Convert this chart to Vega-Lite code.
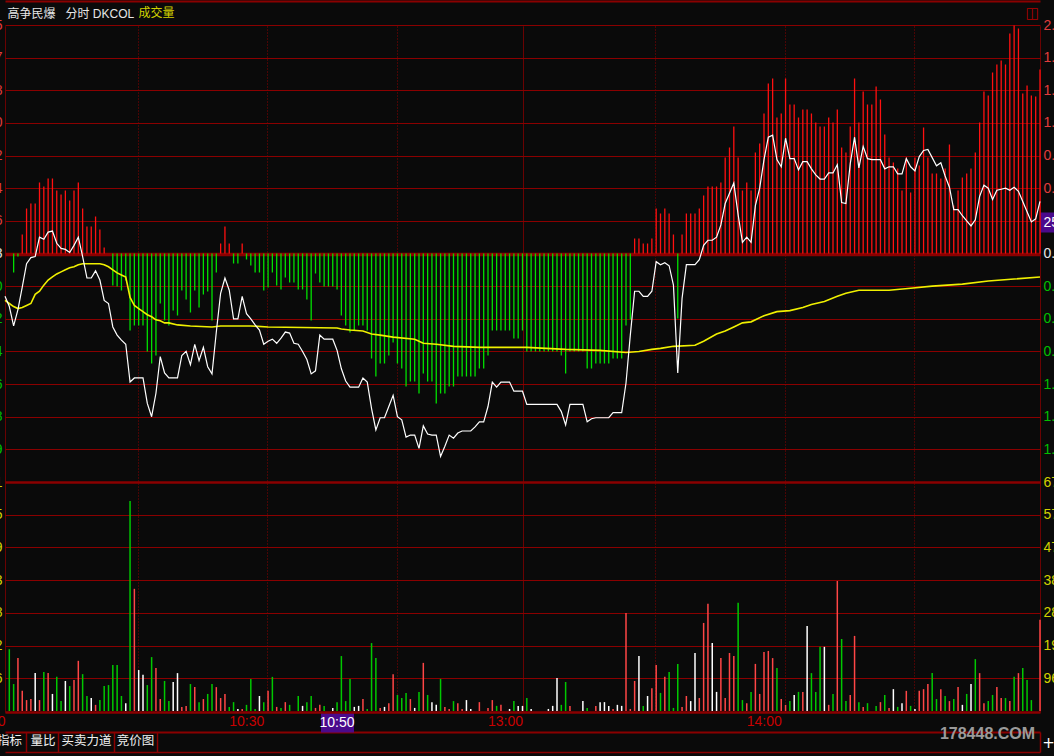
{
"$schema": "https://vega.github.io/schema/vega-lite/v6.json",
"width": 1035,
"height": 687,
"autosize": {"type": "none"},
"padding": {"left": 5, "top": 25, "right": 14, "bottom": 44},
"background": "#0a0a0a",
"config": {
  "view": {"stroke": null},
  "axis": {"labelFont": "Liberation Sans Narrow, Liberation Sans", "labelFontSize": 14, "titleFont": "Liberation Sans, Noto Sans CJK SC", "labelFlush": false, "labelOverlap": false, "ticks": false, "domain": false, "grid": false, "gridColor": "#8a0000", "domainColor": "#8a0000", "tickColor": "#8a0000", "titleFontWeight": "normal"}
},
"datasets": {
"dk": [
{"m":2,"v":-1.9},{"m":3,"v":-0.3},{"m":4,"v":1.9},{"m":5,"v":4.5},{"m":6,"v":5.0},{"m":7,"v":5.0},{"m":8,"v":7.1},{"m":9,"v":6.7},{"m":10,"v":7.5},{"m":11,"v":7.5},{"m":12,"v":6.3},{"m":13,"v":5.9},{"m":14,"v":6.3},{"m":15,"v":5.3},{"m":16,"v":6.3},{"m":17,"v":7.1},{"m":18,"v":4.5},{"m":19,"v":2.7},{"m":20,"v":2.7},{"m":21,"v":3.7},{"m":22,"v":2.4},{"m":23,"v":0.6},
{"m":25,"v":-3.2},{"m":26,"v":-3.3},{"m":27,"v":-3.7},{"m":28,"v":-2.7},{"m":29,"v":-7.7},{"m":30,"v":-7.2},{"m":31,"v":-7.2},{"m":32,"v":-7.2},{"m":33,"v":-9.8},{"m":34,"v":-11.0},{"m":35,"v":-10.2},{"m":36,"v":-5.0},{"m":37,"v":-6.7},{"m":38,"v":-7.2},{"m":39,"v":-5.7},{"m":40,"v":-6.2},{"m":41,"v":-3.7},{"m":42,"v":-4.6},{"m":43,"v":-5.9},{"m":44,"v":-3.7},{"m":45,"v":-5.4},{"m":46,"v":-4.1},{"m":47,"v":-3.8},{"m":48,"v":-6.7},{"m":49,"v":-1.9},{"m":50,"v":1.0},{"m":51,"v":2.7},{"m":52,"v":1.0},{"m":53,"v":-1.0},{"m":54,"v":-1.0},{"m":55,"v":1.0},{"m":56,"v":-0.6},{"m":57,"v":-1.2},{"m":58,"v":-1.9},{"m":59,"v":-1.9},{"m":60,"v":-3.7},
{"m":61,"v":-3.4},{"m":62,"v":-1.9},{"m":63,"v":-3.2},{"m":64,"v":-3.6},{"m":65,"v":-2.4},{"m":66,"v":-2.9},{"m":67,"v":-2.9},{"m":68,"v":-3.6},{"m":69,"v":-3.6},{"m":70,"v":-4.6},{"m":71,"v":-6.7},{"m":72,"v":-2.0},{"m":73,"v":-2.9},{"m":74,"v":-3.3},{"m":75,"v":-3.3},{"m":76,"v":-3.3},{"m":77,"v":-3.6},{"m":78,"v":-6.2},{"m":79,"v":-7.2},{"m":80,"v":-7.9},{"m":81,"v":-7.7},{"m":82,"v":-7.2},{"m":83,"v":-7.2},{"m":84,"v":-7.7},{"m":85,"v":-10.5},{"m":86,"v":-12.3},{"m":87,"v":-11.0},{"m":88,"v":-11.0},{"m":89,"v":-10.2},{"m":90,"v":-8.9},
{"m":91,"v":-11.0},{"m":92,"v":-11.5},{"m":93,"v":-13.3},{"m":94,"v":-12.8},{"m":95,"v":-12.8},{"m":96,"v":-14.0},{"m":97,"v":-12.0},{"m":98,"v":-12.8},{"m":99,"v":-12.8},{"m":100,"v":-15.0},{"m":101,"v":-14.0},{"m":102,"v":-14.0},{"m":103,"v":-13.3},{"m":104,"v":-13.3},{"m":105,"v":-12.3},{"m":106,"v":-12.3},{"m":107,"v":-12.3},{"m":108,"v":-12.3},{"m":109,"v":-12.3},{"m":110,"v":-11.5},{"m":111,"v":-11.5},{"m":112,"v":-10.2},{"m":113,"v":-7.7},{"m":114,"v":-7.7},{"m":115,"v":-7.7},{"m":116,"v":-7.7},{"m":117,"v":-7.7},{"m":118,"v":-8.5},{"m":119,"v":-8.5},{"m":120,"v":-7.7},
{"m":121,"v":-9.8},{"m":122,"v":-9.8},{"m":123,"v":-9.8},{"m":124,"v":-9.8},{"m":125,"v":-9.8},{"m":126,"v":-9.8},{"m":127,"v":-9.8},{"m":128,"v":-9.8},{"m":129,"v":-10.2},{"m":130,"v":-12.0},{"m":131,"v":-9.8},{"m":132,"v":-9.8},{"m":133,"v":-9.8},{"m":134,"v":-9.8},{"m":135,"v":-11.5},{"m":136,"v":-11.5},{"m":137,"v":-11.0},{"m":138,"v":-11.0},{"m":139,"v":-11.0},{"m":140,"v":-11.0},{"m":141,"v":-10.5},{"m":142,"v":-10.5},{"m":143,"v":-10.5},{"m":144,"v":-7.2},{"m":145,"v":-6.6},{"m":146,"v":1.5},{"m":147,"v":1.5},{"m":148,"v":1.0},{"m":149,"v":1.0},{"m":150,"v":1.5},
{"m":151,"v":4.5},{"m":152,"v":4.0},{"m":153,"v":4.5},{"m":154,"v":4.0},{"m":155,"v":1.9},{"m":156,"v":-6.5},{"m":157,"v":1.9},{"m":158,"v":4.0},{"m":159,"v":4.0},{"m":160,"v":4.0},{"m":161,"v":4.5},{"m":162,"v":5.8},{"m":163,"v":6.7},{"m":164,"v":6.7},{"m":165,"v":6.7},{"m":166,"v":7.1},{"m":167,"v":9.6},{"m":168,"v":10.6},{"m":169,"v":12.7},{"m":170,"v":9.6},{"m":171,"v":6.3},{"m":172,"v":7.1},{"m":173,"v":6.3},{"m":174,"v":10.1},{"m":175,"v":11.0},{"m":176,"v":14.0},{"m":177,"v":17.0},{"m":178,"v":17.5},{"m":179,"v":13.6},{"m":180,"v":14.0},
{"m":181,"v":17.5},{"m":182,"v":14.9},{"m":183,"v":14.9},{"m":184,"v":13.6},{"m":185,"v":14.4},{"m":186,"v":14.4},{"m":187,"v":14.0},{"m":188,"v":13.1},{"m":189,"v":12.7},{"m":190,"v":12.7},{"m":191,"v":13.6},{"m":192,"v":13.1},{"m":193,"v":14.4},{"m":194,"v":10.6},{"m":195,"v":10.1},{"m":196,"v":12.7},{"m":197,"v":17.5},{"m":198,"v":13.1},{"m":199,"v":16.2},{"m":200,"v":14.9},{"m":201,"v":14.9},{"m":202,"v":16.7},{"m":203,"v":15.4},{"m":204,"v":11.9},{"m":205,"v":9.6},{"m":206,"v":9.1},{"m":207,"v":8.5},{"m":208,"v":6.3},{"m":209,"v":9.6},{"m":210,"v":6.1},
{"m":211,"v":9.6},{"m":212,"v":8.8},{"m":213,"v":12.6},{"m":214,"v":9.6},{"m":215,"v":8.0},{"m":216,"v":8.0},{"m":217,"v":7.5},{"m":218,"v":8.5},{"m":219,"v":10.9},{"m":220,"v":4.8},{"m":221,"v":6.3},{"m":222,"v":7.6},{"m":223,"v":8.0},{"m":224,"v":8.5},{"m":225,"v":10.1},{"m":226,"v":13.1},{"m":227,"v":16.2},{"m":228,"v":15.8},{"m":229,"v":18.1},{"m":230,"v":18.9},{"m":231,"v":19.3},{"m":232,"v":18.9},{"m":233,"v":22.0},{"m":234,"v":22.8},{"m":235,"v":22.5},{"m":236,"v":16.0},{"m":237,"v":16.8},{"m":238,"v":15.8},{"m":239,"v":15.7},{"m":240,"v":18.4}
],
"price": [
{"m":0,"p":-0.42},{"m":1,"p":-0.52},{"m":2,"p":-0.71},{"m":3,"p":-0.55},{"m":4,"p":-0.33},{"m":5,"p":-0.10},{"m":6,"p":-0.04},{"m":7,"p":-0.03},{"m":8,"p":0.16},{"m":9,"p":0.14},{"m":10,"p":0.21},{"m":11,"p":0.22},{"m":12,"p":0.10},{"m":13,"p":0.05},{"m":14,"p":0.04},{"m":15,"p":0.01},{"m":16,"p":0.08},{"m":17,"p":0.16},{"m":18,"p":-0.03},{"m":19,"p":-0.24},{"m":20,"p":-0.24},{"m":21,"p":-0.17},{"m":22,"p":-0.26},{"m":23,"p":-0.46},{"m":24,"p":-0.49},{"m":25,"p":-0.72},{"m":26,"p":-0.80},{"m":27,"p":-0.85},{"m":28,"p":-0.89},{"m":29,"p":-1.26},{"m":30,"p":-1.22},
{"m":31,"p":-1.22},{"m":32,"p":-1.22},{"m":33,"p":-1.47},{"m":34,"p":-1.60},{"m":35,"p":-1.37},{"m":36,"p":-1.01},{"m":37,"p":-1.17},{"m":38,"p":-1.22},{"m":39,"p":-1.22},{"m":40,"p":-1.22},{"m":41,"p":-1.00},{"m":42,"p":-0.96},{"m":43,"p":-1.09},{"m":44,"p":-0.89},{"m":45,"p":-1.05},{"m":46,"p":-0.92},{"m":47,"p":-1.11},{"m":48,"p":-1.18},{"m":49,"p":-0.77},{"m":50,"p":-0.39},{"m":51,"p":-0.24},{"m":52,"p":-0.36},{"m":53,"p":-0.64},{"m":54,"p":-0.64},{"m":55,"p":-0.42},{"m":56,"p":-0.59},{"m":57,"p":-0.64},{"m":58,"p":-0.70},{"m":59,"p":-0.75},{"m":60,"p":-0.89},
{"m":61,"p":-0.86},{"m":62,"p":-0.84},{"m":63,"p":-0.88},{"m":64,"p":-0.83},{"m":65,"p":-0.77},{"m":66,"p":-0.78},{"m":67,"p":-0.88},{"m":68,"p":-0.89},{"m":69,"p":-0.96},{"m":70,"p":-1.04},{"m":71,"p":-1.18},{"m":72,"p":-1.15},{"m":73,"p":-0.80},{"m":74,"p":-0.84},{"m":75,"p":-0.84},{"m":76,"p":-0.84},{"m":77,"p":-0.95},{"m":78,"p":-1.13},{"m":79,"p":-1.25},{"m":80,"p":-1.31},{"m":81,"p":-1.31},{"m":82,"p":-1.31},{"m":83,"p":-1.22},{"m":84,"p":-1.26},{"m":85,"p":-1.52},{"m":86,"p":-1.73},{"m":87,"p":-1.61},{"m":88,"p":-1.61},{"m":89,"p":-1.50},{"m":90,"p":-1.39},
{"m":91,"p":-1.60},{"m":92,"p":-1.63},{"m":93,"p":-1.80},{"m":94,"p":-1.78},{"m":95,"p":-1.78},{"m":96,"p":-1.91},{"m":97,"p":-1.69},{"m":98,"p":-1.77},{"m":99,"p":-1.78},{"m":100,"p":-1.78},{"m":101,"p":-1.99},{"m":102,"p":-1.89},{"m":103,"p":-1.78},{"m":104,"p":-1.81},{"m":105,"p":-1.76},{"m":106,"p":-1.74},{"m":107,"p":-1.74},{"m":108,"p":-1.74},{"m":109,"p":-1.70},{"m":110,"p":-1.65},{"m":111,"p":-1.65},{"m":112,"p":-1.50},{"m":113,"p":-1.26},{"m":114,"p":-1.31},{"m":115,"p":-1.26},{"m":116,"p":-1.26},{"m":117,"p":-1.26},{"m":118,"p":-1.35},{"m":119,"p":-1.35},{"m":120,"p":-1.35},
{"m":121,"p":-1.48},{"m":122,"p":-1.48},{"m":123,"p":-1.48},{"m":124,"p":-1.48},{"m":125,"p":-1.48},{"m":126,"p":-1.48},{"m":127,"p":-1.48},{"m":128,"p":-1.48},{"m":129,"p":-1.55},{"m":130,"p":-1.68},{"m":131,"p":-1.48},{"m":132,"p":-1.48},{"m":133,"p":-1.48},{"m":134,"p":-1.48},{"m":135,"p":-1.65},{"m":136,"p":-1.62},{"m":137,"p":-1.61},{"m":138,"p":-1.61},{"m":139,"p":-1.61},{"m":140,"p":-1.61},{"m":141,"p":-1.56},{"m":142,"p":-1.56},{"m":143,"p":-1.56},{"m":144,"p":-1.27},{"m":145,"p":-0.80},{"m":146,"p":-0.37},{"m":147,"p":-0.37},{"m":148,"p":-0.42},{"m":149,"p":-0.42},{"m":150,"p":-0.37},
{"m":151,"p":-0.08},{"m":152,"p":-0.11},{"m":153,"p":-0.09},{"m":154,"p":-0.12},{"m":155,"p":-0.31},{"m":156,"p":-1.17},{"m":157,"p":-0.44},{"m":158,"p":-0.11},{"m":159,"p":-0.11},{"m":160,"p":-0.11},{"m":161,"p":-0.06},{"m":162,"p":0.08},{"m":163,"p":0.13},{"m":164,"p":0.13},{"m":165,"p":0.16},{"m":166,"p":0.28},{"m":167,"p":0.49},{"m":168,"p":0.59},{"m":169,"p":0.69},{"m":170,"p":0.38},{"m":171,"p":0.11},{"m":172,"p":0.16},{"m":173,"p":0.11},{"m":174,"p":0.47},{"m":175,"p":0.64},{"m":176,"p":0.92},{"m":177,"p":1.14},{"m":178,"p":1.16},{"m":179,"p":0.92},{"m":180,"p":0.85},
{"m":181,"p":1.13},{"m":182,"p":0.93},{"m":183,"p":0.93},{"m":184,"p":0.82},{"m":185,"p":0.90},{"m":186,"p":0.90},{"m":187,"p":0.83},{"m":188,"p":0.77},{"m":189,"p":0.73},{"m":190,"p":0.73},{"m":191,"p":0.79},{"m":192,"p":0.79},{"m":193,"p":0.87},{"m":194,"p":0.50},{"m":195,"p":0.49},{"m":196,"p":0.88},{"m":197,"p":1.14},{"m":198,"p":0.84},{"m":199,"p":1.05},{"m":200,"p":0.93},{"m":201,"p":0.92},{"m":202,"p":0.92},{"m":203,"p":0.92},{"m":204,"p":0.83},{"m":205,"p":0.85},{"m":206,"p":0.85},{"m":207,"p":0.78},{"m":208,"p":0.78},{"m":209,"p":0.93},{"m":210,"p":0.85},
{"m":211,"p":0.81},{"m":212,"p":0.95},{"m":213,"p":1.01},{"m":214,"p":1.02},{"m":215,"p":0.94},{"m":216,"p":0.86},{"m":217,"p":0.89},{"m":218,"p":0.76},{"m":219,"p":0.65},{"m":220,"p":0.43},{"m":221,"p":0.43},{"m":222,"p":0.37},{"m":223,"p":0.32},{"m":224,"p":0.27},{"m":225,"p":0.33},{"m":226,"p":0.56},{"m":227,"p":0.67},{"m":228,"p":0.64},{"m":229,"p":0.53},{"m":230,"p":0.62},{"m":231,"p":0.63},{"m":232,"p":0.64},{"m":233,"p":0.62},{"m":234,"p":0.65},{"m":235,"p":0.61},{"m":236,"p":0.51},{"m":237,"p":0.41},{"m":238,"p":0.31},{"m":239,"p":0.34},{"m":240,"p":0.51}
],
"avg": [
{"m":0,"a":-0.46},{"m":1,"a":-0.49},{"m":2,"a":-0.52},{"m":3,"a":-0.54},{"m":4,"a":-0.53},{"m":5,"a":-0.51},{"m":6,"a":-0.49},{"m":7,"a":-0.40},{"m":8,"a":-0.37},{"m":9,"a":-0.31},{"m":10,"a":-0.26},{"m":11,"a":-0.23},{"m":12,"a":-0.20},{"m":13,"a":-0.18},{"m":14,"a":-0.16},{"m":15,"a":-0.14},{"m":16,"a":-0.13},{"m":17,"a":-0.11},{"m":18,"a":-0.10},{"m":22,"a":-0.10},{"m":23,"a":-0.11},{"m":24,"a":-0.13},{"m":25,"a":-0.16},{"m":26,"a":-0.19},{"m":27,"a":-0.21},{"m":28,"a":-0.23},{"m":29,"a":-0.43},{"m":30,"a":-0.51},{"m":31,"a":-0.54},{"m":32,"a":-0.57},{"m":33,"a":-0.60},{"m":34,"a":-0.62},{"m":35,"a":-0.65},{"m":36,"a":-0.66},{"m":37,"a":-0.68},{"m":38,"a":-0.68},{"m":40,"a":-0.70},{"m":43,"a":-0.71},{"m":48,"a":-0.72},{"m":50,"a":-0.71},{"m":57,"a":-0.71},{"m":61,"a":-0.72},{"m":77,"a":-0.73},{"m":78,"a":-0.74},{"m":80,"a":-0.75},{"m":83,"a":-0.76},{"m":85,"a":-0.79},{"m":87,"a":-0.80},{"m":90,"a":-0.82},{"m":95,"a":-0.84},{"m":97,"a":-0.88},{"m":100,"a":-0.89},{"m":104,"a":-0.91},{"m":110,"a":-0.92},{"m":121,"a":-0.92},{"m":130,"a":-0.94},{"m":138,"a":-0.95},{"m":144,"a":-0.97},{"m":147,"a":-0.96},{"m":150,"a":-0.94},{"m":152,"a":-0.93},{"m":155,"a":-0.91},{"m":160,"a":-0.90},{"m":162,"a":-0.86},{"m":165,"a":-0.79},{"m":167,"a":-0.76},{"m":169,"a":-0.72},{"m":171,"a":-0.68},{"m":173,"a":-0.67},{"m":176,"a":-0.61},{"m":179,"a":-0.57},{"m":182,"a":-0.56},{"m":185,"a":-0.53},{"m":187,"a":-0.50},{"m":190,"a":-0.47},{"m":193,"a":-0.42},{"m":195,"a":-0.39},{"m":198,"a":-0.36},{"m":205,"a":-0.36},{"m":210,"a":-0.34},{"m":215,"a":-0.32},{"m":222,"a":-0.30},{"m":228,"a":-0.27},{"m":234,"a":-0.25},{"m":240,"a":-0.23}
],
"vol": [
{"m":1,"V":181,"c":"G"},{"m":2,"V":79,"c":"G"},{"m":3,"V":155,"c":"R"},{"m":4,"V":59,"c":"R"},{"m":5,"V":32,"c":"R"},{"m":6,"V":35,"c":"R"},{"m":7,"V":111,"c":"W"},{"m":8,"V":32,"c":"R"},{"m":9,"V":114,"c":"G"},{"m":10,"V":111,"c":"R"},{"m":11,"V":50,"c":"W"},{"m":12,"V":100,"c":"G"},{"m":13,"V":29,"c":"G"},{"m":14,"V":88,"c":"W"},{"m":15,"V":73,"c":"G"},{"m":16,"V":91,"c":"R"},{"m":17,"V":147,"c":"R"},{"m":18,"V":108,"c":"G"},{"m":19,"V":44,"c":"G"},{"m":20,"V":38,"c":"W"},{"m":21,"V":18,"c":"R"},{"m":22,"V":32,"c":"G"},{"m":23,"V":73,"c":"G"},{"m":24,"V":76,"c":"G"},{"m":25,"V":135,"c":"G"},{"m":26,"V":135,"c":"G"},{"m":27,"V":44,"c":"G"},{"m":28,"V":23,"c":"W"},{"m":29,"V":615,"c":"G"},{"m":30,"V":358,"c":"R"},
{"m":31,"V":120,"c":"W"},{"m":32,"V":106,"c":"W"},{"m":33,"V":76,"c":"G"},{"m":34,"V":158,"c":"G"},{"m":35,"V":126,"c":"R"},{"m":36,"V":35,"c":"R"},{"m":37,"V":88,"c":"G"},{"m":38,"V":29,"c":"G"},{"m":39,"V":85,"c":"W"},{"m":40,"V":111,"c":"W"},{"m":41,"V":12,"c":"R"},{"m":42,"V":15,"c":"R"},{"m":43,"V":79,"c":"G"},{"m":44,"V":70,"c":"R"},{"m":45,"V":26,"c":"G"},{"m":46,"V":35,"c":"R"},{"m":47,"V":50,"c":"G"},{"m":48,"V":79,"c":"G"},{"m":49,"V":70,"c":"R"},{"m":50,"V":38,"c":"R"},{"m":51,"V":50,"c":"R"},{"m":52,"V":12,"c":"G"},{"m":53,"V":26,"c":"G"},{"m":54,"V":6,"c":"W"},{"m":55,"V":6,"c":"R"},{"m":56,"V":18,"c":"G"},{"m":57,"V":94,"c":"G"},{"m":58,"V":6,"c":"G"},{"m":59,"V":44,"c":"W"},{"m":60,"V":26,"c":"G"},
{"m":61,"V":59,"c":"R"},{"m":62,"V":100,"c":"G"},{"m":63,"V":12,"c":"R"},{"m":64,"V":9,"c":"G"},{"m":65,"V":26,"c":"R"},{"m":66,"V":18,"c":"G"},{"m":68,"V":44,"c":"G"},{"m":69,"V":15,"c":"W"},{"m":70,"V":26,"c":"G"},{"m":71,"V":44,"c":"G"},{"m":72,"V":9,"c":"R"},{"m":73,"V":18,"c":"R"},{"m":74,"V":15,"c":"G"},{"m":76,"V":9,"c":"W"},{"m":77,"V":26,"c":"G"},{"m":78,"V":161,"c":"G"},{"m":79,"V":29,"c":"G"},{"m":80,"V":94,"c":"G"},{"m":81,"V":12,"c":"W"},{"m":82,"V":15,"c":"W"},{"m":83,"V":35,"c":"R"},{"m":84,"V":6,"c":"G"},{"m":85,"V":199,"c":"G"},{"m":86,"V":155,"c":"G"},{"m":87,"V":9,"c":"R"},{"m":88,"V":12,"c":"W"},{"m":89,"V":23,"c":"R"},{"m":90,"V":108,"c":"R"},
{"m":91,"V":47,"c":"G"},{"m":92,"V":38,"c":"G"},{"m":93,"V":53,"c":"G"},{"m":94,"V":35,"c":"R"},{"m":95,"V":9,"c":"W"},{"m":96,"V":56,"c":"G"},{"m":97,"V":141,"c":"R"},{"m":98,"V":47,"c":"G"},{"m":99,"V":26,"c":"W"},{"m":100,"V":18,"c":"W"},{"m":101,"V":94,"c":"G"},{"m":102,"V":12,"c":"R"},{"m":103,"V":6,"c":"R"},{"m":104,"V":29,"c":"G"},{"m":105,"V":23,"c":"R"},{"m":106,"V":6,"c":"R"},{"m":107,"V":32,"c":"W"},{"m":108,"V":6,"c":"W"},{"m":110,"V":26,"c":"R"},{"m":112,"V":9,"c":"R"},{"m":113,"V":32,"c":"R"},{"m":114,"V":15,"c":"G"},{"m":115,"V":18,"c":"R"},{"m":117,"V":6,"c":"W"},{"m":118,"V":29,"c":"G"},{"m":119,"V":15,"c":"W"},{"m":120,"V":15,"c":"W"},
{"m":121,"V":38,"c":"G"},{"m":122,"V":6,"c":"W"},{"m":126,"V":6,"c":"W"},{"m":127,"V":15,"c":"W"},{"m":128,"V":97,"c":"W"},{"m":129,"V":18,"c":"G"},{"m":130,"V":85,"c":"G"},{"m":131,"V":15,"c":"R"},{"m":134,"V":29,"c":"W"},{"m":135,"V":9,"c":"G"},{"m":137,"V":15,"c":"R"},{"m":138,"V":26,"c":"W"},{"m":139,"V":26,"c":"W"},{"m":140,"V":15,"c":"W"},{"m":141,"V":6,"c":"R"},{"m":142,"V":18,"c":"W"},{"m":143,"V":15,"c":"W"},{"m":144,"V":287,"c":"R"},{"m":145,"V":6,"c":"R"},{"m":146,"V":88,"c":"R"},{"m":147,"V":161,"c":"W"},{"m":148,"V":15,"c":"G"},{"m":149,"V":44,"c":"W"},{"m":150,"V":67,"c":"R"},
{"m":151,"V":135,"c":"R"},{"m":152,"V":53,"c":"G"},{"m":153,"V":100,"c":"R"},{"m":154,"V":114,"c":"G"},{"m":155,"V":9,"c":"G"},{"m":156,"V":138,"c":"G"},{"m":157,"V":12,"c":"R"},{"m":158,"V":44,"c":"R"},{"m":159,"V":29,"c":"W"},{"m":160,"V":170,"c":"W"},{"m":161,"V":38,"c":"R"},{"m":162,"V":258,"c":"R"},{"m":163,"V":314,"c":"R"},{"m":164,"V":199,"c":"W"},{"m":165,"V":56,"c":"W"},{"m":166,"V":155,"c":"R"},{"m":167,"V":38,"c":"R"},{"m":168,"V":170,"c":"R"},{"m":169,"V":161,"c":"R"},{"m":170,"V":317,"c":"G"},{"m":171,"V":32,"c":"G"},{"m":172,"V":23,"c":"R"},{"m":173,"V":56,"c":"G"},{"m":174,"V":138,"c":"R"},{"m":175,"V":50,"c":"R"},{"m":176,"V":173,"c":"R"},{"m":177,"V":176,"c":"R"},{"m":178,"V":155,"c":"R"},{"m":179,"V":126,"c":"G"},{"m":180,"V":35,"c":"R"},
{"m":181,"V":18,"c":"R"},{"m":182,"V":29,"c":"G"},{"m":183,"V":47,"c":"W"},{"m":184,"V":56,"c":"G"},{"m":185,"V":56,"c":"R"},{"m":186,"V":249,"c":"W"},{"m":187,"V":111,"c":"G"},{"m":188,"V":56,"c":"G"},{"m":189,"V":188,"c":"G"},{"m":190,"V":188,"c":"W"},{"m":191,"V":18,"c":"R"},{"m":192,"V":50,"c":"G"},{"m":193,"V":381,"c":"R"},{"m":194,"V":211,"c":"G"},{"m":195,"V":29,"c":"G"},{"m":196,"V":47,"c":"R"},{"m":197,"V":220,"c":"R"},{"m":198,"V":26,"c":"G"},{"m":199,"V":12,"c":"R"},{"m":200,"V":23,"c":"G"},{"m":202,"V":15,"c":"G"},{"m":203,"V":26,"c":"R"},{"m":204,"V":47,"c":"G"},{"m":205,"V":9,"c":"R"},{"m":206,"V":64,"c":"W"},{"m":207,"V":12,"c":"G"},{"m":208,"V":23,"c":"W"},{"m":209,"V":59,"c":"R"},{"m":210,"V":15,"c":"G"},
{"m":211,"V":6,"c":"W"},{"m":212,"V":59,"c":"R"},{"m":213,"V":64,"c":"R"},{"m":214,"V":79,"c":"R"},{"m":215,"V":111,"c":"G"},{"m":216,"V":35,"c":"G"},{"m":217,"V":64,"c":"R"},{"m":218,"V":44,"c":"G"},{"m":219,"V":29,"c":"R"},{"m":220,"V":35,"c":"G"},{"m":221,"V":70,"c":"R"},{"m":222,"V":18,"c":"W"},{"m":223,"V":50,"c":"G"},{"m":224,"V":79,"c":"W"},{"m":225,"V":152,"c":"G"},{"m":226,"V":111,"c":"R"},{"m":227,"V":23,"c":"R"},{"m":228,"V":29,"c":"G"},{"m":229,"V":47,"c":"G"},{"m":230,"V":70,"c":"R"},{"m":231,"V":38,"c":"R"},{"m":232,"V":38,"c":"G"},{"m":233,"V":29,"c":"R"},{"m":234,"V":100,"c":"G"},{"m":235,"V":111,"c":"R"},{"m":236,"V":126,"c":"G"},{"m":237,"V":91,"c":"G"},{"m":238,"V":32,"c":"G"},{"m":240,"V":267,"c":"R"}
]
},
"layer": [
{
  "data": {"name": "dk"},
  "transform": [{"filter": "datum.v > 0"}],
  "mark": {"type": "rule", "strokeWidth": 1.3, "color": "#ff1010"},
  "encoding": {
    "x": {"field": "m", "type": "quantitative", "scale": {"domain": [0, 240], "nice": false, "zero": false},
      "axis": {"orient": "bottom", "values": [0, 30.8, 60.8, 90.8, 120, 150.8, 180.8, 210.8, 240], "grid": true, "gridColor": "#8a0000", "gridWidth": 1,
        "gridDash": {"condition": {"test": "datum.value == 0 || datum.value == 120 || datum.value == 240", "value": [1, 0]}, "value": [1, 2]},
        "labels": false, "ticks": false, "domain": false, "title": null}},
    "y": {"field": "v", "type": "quantitative", "scale": {"domain": [-22.85, 22.85], "range": [457, 0], "nice": false, "zero": false},
      "axis": {"orient": "right", "values": [3.15], "grid": false, "domain": false, "ticks": true, "tickSize": 14, "tickWidth": 20, "tickColor": "#4a0a8c",
        "labelExpr": "'25.36'", "labelColor": "#ffffff", "labelPadding": -11, "labelAlign": "left", "labelFontSize": 14, "title": null}},
    "y2": {"datum": 0}
  }
},
{
  "data": {"name": "dk"},
  "transform": [{"filter": "datum.v < 0"}],
  "mark": {"type": "rule", "strokeWidth": 1.3, "color": "#00e000"},
  "encoding": {
    "x": {"field": "m", "type": "quantitative", "scale": {"domain": [0, 240], "nice": false, "zero": false},
      "axis": {"orient": "top", "offset": 24, "domain": true, "domainColor": "#8a0000", "domainWidth": 2, "labels": false, "ticks": false, "grid": false,
        "title": "高争民爆\u00a0\u00a0\u00a0分时 DKCOL", "titleX": 2, "titleY": 12, "titleAlign": "left", "titleBaseline": "middle", "titleAngle": 0,
        "titleColor": "#e6e6e6", "titleFontSize": 12, "titleFont": "Liberation Sans, Noto Sans CJK SC", "titleFontWeight": "normal"}},
    "y": {"field": "v", "type": "quantitative", "scale": {"domain": [-22.85, 22.85], "range": [457, 0], "nice": false, "zero": false}, "axis": null},
    "y2": {"datum": 0}
  }
},
{
  "data": {"name": "vol"},
  "transform": [{"filter": "datum.c == 'R'"}],
  "mark": {"type": "rule", "strokeWidth": 1.5, "color": "#ff4646"},
  "encoding": {
    "x": {"field": "m", "type": "quantitative", "scale": {"domain": [0, 240], "nice": false, "zero": false},
      "axis": {"orient": "bottom", "values": [0, 30.8, 60.8, 90.8, 120, 150.8, 180.8, 210.8, 240], "grid": true, "gridColor": "#8a0000", "gridWidth": 1,
        "gridDash": {"condition": {"test": "datum.value == 0 || datum.value == 120 || datum.value == 240", "value": [1, 0]}, "value": [1, 2]},
        "labels": false, "ticks": false, "domain": false, "title": null}},
    "y": {"field": "V", "type": "quantitative", "scale": {"domain": [0, 670.95], "range": [686, 457], "nice": false, "zero": false},
      "axis": {"orient": "right", "values": [95.85, 191.7, 287.55, 383.4, 479.25, 575.1, 670.95], "grid": true, "gridColor": "#8a0000",
        "gridWidth": {"condition": {"test": "datum.value > 600", "value": 2.5}, "value": 1},
        "labelExpr": "format(datum.value, '.0f')", "labelColor": "#d2d200", "labelPadding": 3, "labelFontSize": 14, "domain": false, "ticks": false, "title": null}},
    "y2": {"datum": 0}
  }
},
{
  "data": {"name": "vol"},
  "transform": [{"filter": "datum.c == 'G'"}],
  "mark": {"type": "rule", "strokeWidth": 1.5, "color": "#00c800"},
  "encoding": {
    "x": {"field": "m", "type": "quantitative", "scale": {"domain": [0, 240], "nice": false, "zero": false},
      "axis": {"orient": "bottom", "offset": 20, "values": [4.87, 12.29, 25.16, 35.25, 240], "domain": true, "domainColor": "#8a0000", "domainWidth": 2,
        "ticks": true, "tickSize": 20, "tickWidth": 1.5, "tickColor": "#8a0000", "labels": false, "grid": false,
        "title": "+", "titleX": 1043, "titleY": 10, "titleAlign": "center", "titleBaseline": "middle", "titleColor": "#ffffff", "titleFontSize": 15, "titleFont": "DejaVu Sans"}},
    "y": {"field": "V", "type": "quantitative", "scale": {"domain": [0, 670.95], "range": [686, 457], "nice": false, "zero": false},
      "axis": {"orient": "left", "values": [95.85, 191.7, 287.55, 383.4, 479.25, 575.1, 670.95], "grid": false,
        "labelExpr": "format(datum.value, '.0f')", "labelColor": "#d2d200", "labelPadding": 3, "labelFontSize": 14, "domain": false, "ticks": false, "title": null}},
    "y2": {"datum": 0}
  }
},
{
  "data": {"name": "vol"},
  "transform": [{"filter": "datum.c == 'W'"}],
  "mark": {"type": "rule", "strokeWidth": 1.5, "color": "#ffffff"},
  "encoding": {
    "x": {"field": "m", "type": "quantitative", "scale": {"domain": [0, 240], "nice": false, "zero": false},
      "axis": {"orient": "bottom", "values": [76.87], "domain": false, "grid": false, "ticks": true, "tickSize": 20, "tickWidth": 33, "tickColor": "#4a0a8c",
        "labelExpr": "'10:50'", "labelColor": "#ffffff", "labelPadding": -17, "labelFontSize": 14, "labelAlign": "center",
        "title": "178448.COM", "titleX": 982, "titleY": 21, "titleAlign": "center", "titleBaseline": "middle", "titleAngle": 0,
        "titleColor": "#9a9a9a", "titleFontSize": 16, "titleFontWeight": "bold", "titleFont": "Liberation Sans Narrow, Liberation Sans"}},
    "y": {"field": "V", "type": "quantitative", "scale": {"domain": [0, 670.95], "range": [686, 457], "nice": false, "zero": false}, "axis": null},
    "y2": {"datum": 0}
  }
},
{
  "data": {"name": "avg"},
  "mark": {"type": "line", "strokeWidth": 1.6, "color": "#f0f000"},
  "encoding": {
    "x": {"field": "m", "type": "quantitative", "scale": {"domain": [0, 240], "nice": false, "zero": false},
      "axis": {"orient": "bottom", "offset": 40, "values": [0.93, 8.7, 18.78, 30.14], "domain": true, "domainColor": "#8a0000", "domainWidth": 1.5, "ticks": false, "grid": false,
        "labelExpr": "datum.value < 5 ? '指标' : datum.value < 15 ? '量比' : datum.value < 25 ? '买卖力道' : '竞价图'",
        "labelColor": "#f0f0f0", "labelFont": "Noto Sans CJK SC", "labelFontSize": 12.5, "labelPadding": -18, "labelAlign": "center", "labelBaseline": "top", "title": null}},
    "y": {"field": "a", "type": "quantitative", "scale": {"domain": [-2.24, 2.24], "range": [457, 0], "nice": false, "zero": false},
      "axis": {"orient": "left", "values": [2.24, 1.92, 1.6, 1.28, 0.96, 0.64, 0.32, 0, -0.32, -0.64, -0.96, -1.28, -1.6, -1.92], "grid": false, "domain": false, "ticks": false,
        "labelExpr": "format(25.28 * (1 + datum.value / 100), '.2f')", "labelPadding": 3, "labelFontSize": 14,
        "labelColor": {"condition": [{"test": "datum.value > 0.001", "value": "#e03c3c"}, {"test": "datum.value < -0.001", "value": "#00c000"}], "value": "#e8e8e8"},
        "title": "成交量", "titleX": 133, "titleY": -12.5, "titleAlign": "left", "titleBaseline": "middle", "titleAngle": 0,
        "titleColor": "#d2d200", "titleFont": "Noto Sans CJK SC", "titleFontSize": 12, "titleFontWeight": "normal"}}
  }
},
{
  "data": {"name": "price"},
  "mark": {"type": "line", "strokeWidth": 1.2, "color": "#ffffff"},
  "encoding": {
    "x": {"field": "m", "type": "quantitative", "scale": {"domain": [0, 240], "nice": false, "zero": false},
      "axis": {"orient": "bottom", "values": [0, 60, 120, 180], "domain": true, "domainColor": "#8a0000", "domainWidth": 2.5, "ticks": false, "grid": false,
        "labelExpr": "datum.value == 0 ? '09:30' : datum.value == 60 ? '10:30' : datum.value == 120 ? '13:00' : '14:00'",
        "labelAlign": "right", "labelColor": "#c80000", "labelPadding": 2, "labelFontSize": 14, "title": null}},
    "y": {"field": "p", "type": "quantitative", "scale": {"domain": [-2.24, 2.24], "range": [457, 0], "nice": false, "zero": false},
      "axis": {"orient": "right", "values": [2.24, 1.92, 1.6, 1.28, 0.96, 0.64, 0.32, 0, -0.32, -0.64, -0.96, -1.28, -1.6, -1.92], "grid": true, "gridColor": "#8a0000",
        "gridWidth": {"condition": {"test": "datum.value == 0", "value": 3.5}, "value": 1},
        "domain": false, "ticks": false, "labelPadding": 3, "labelFontSize": 14,
        "labelExpr": "abs(datum.value - 0.32) < 0.01 ? '' : format(abs(datum.value), '.2f')",
        "labelColor": {"condition": [{"test": "datum.value > 0.001", "value": "#e03c3c"}, {"test": "datum.value < -0.001", "value": "#00c000"}], "value": "#e8e8e8"},
        "title": "◫", "titleX": -8, "titleY": -12.5, "titleAlign": "center", "titleBaseline": "middle", "titleAngle": 0,
        "titleColor": "#b00000", "titleFont": "DejaVu Sans", "titleFontSize": 15}}
  }
}
],
"resolve": {"scale": {"y": "independent"}, "axis": {"x": "independent", "y": "independent"}}
}
